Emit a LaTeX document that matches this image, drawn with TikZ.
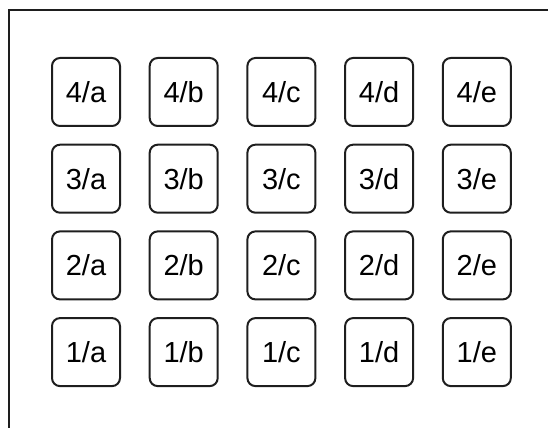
\documentclass[tikz,border=0pt]{standalone}
\usepackage{fontspec}
\setmainfont{Liberation Sans}
\usetikzlibrary{positioning}
\definecolor{edge}{RGB}{30,30,30}
\tikzset{
  cell/.style={draw=edge, line width=2pt, rounded corners=8pt,
               minimum size=68pt, inner sep=0pt, font=\fontsize{29}{32}\selectfont},
  frame/.style={draw=edge, line width=2.5pt},
}
\begin{document}
\begin{tikzpicture}[x=1pt, y=1pt, node distance=16.7pt and 27.7pt]
  \useasboundingbox (0,0) rectangle (548,428);
  \draw[frame] (548,418) -- (9,418) -- (9,0);

  \node[cell] at (86,336)          (c4a) {4/a};
  \node[cell, right=of c4a]        (c4b) {4/b};
  \node[cell, right=of c4b]        (c4c) {4/c};
  \node[cell, right=of c4c]        (c4d) {4/d};
  \node[cell, right=of c4d]        (c4e) {4/e};

  \node[cell, below=of c4a]        (c3a) {3/a};
  \node[cell, right=of c3a]        (c3b) {3/b};
  \node[cell, right=of c3b]        (c3c) {3/c};
  \node[cell, right=of c3c]        (c3d) {3/d};
  \node[cell, right=of c3d]        (c3e) {3/e};

  \node[cell, below=of c3a]        (c2a) {2/a};
  \node[cell, right=of c2a]        (c2b) {2/b};
  \node[cell, right=of c2b]        (c2c) {2/c};
  \node[cell, right=of c2c]        (c2d) {2/d};
  \node[cell, right=of c2d]        (c2e) {2/e};

  \node[cell, below=of c2a]        (c1a) {1/a};
  \node[cell, right=of c1a]        (c1b) {1/b};
  \node[cell, right=of c1b]        (c1c) {1/c};
  \node[cell, right=of c1c]        (c1d) {1/d};
  \node[cell, right=of c1d]        (c1e) {1/e};
\end{tikzpicture}
\end{document}
